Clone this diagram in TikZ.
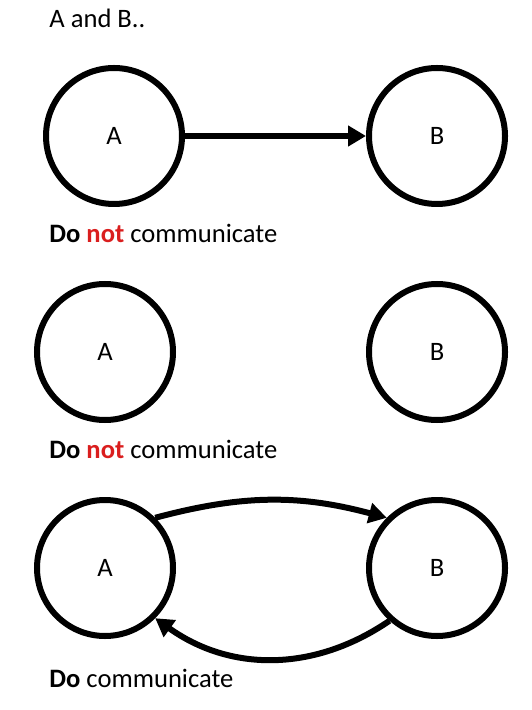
\documentclass[tikz,border=0pt]{standalone}
\usepackage{fontspec}
\setmainfont{Carlito}
\usepackage{xcolor}
\usetikzlibrary{arrows.meta,positioning}
\definecolor{notred}{RGB}{218,30,30}

\begin{document}
\begin{tikzpicture}[x=0.5pt,y=-0.5pt,>={Triangle[length=9pt,width=10pt]},node distance=161.5pt,on grid,font=\fontsize{13.3}{16}\selectfont]
          \useasboundingbox (0,0) rectangle (531,710);
          \tikzset{party/.style={circle,draw,line width=3pt,minimum size=68pt,inner sep=0pt}}
          \tikzset{caption/.style={anchor=base west,inner sep=0pt}}
          \tikzset{msg/.style={->,line width=3pt}}
          \node[caption]          (title) at (49,28)     {A and B..};
          \node[party]            (A1) at (114,136)      {A};
          \node[party]            (B1) [right=of A1]     {B};
          \node[caption]          (cap1) at (49,243)     {\textbf{Do} \textcolor{notred}{\textbf{not}} communicate};
          \node[party]            (A2) at (105,352)      {A};
          \node[party]            (B2) [right=166pt of A2] {B};
          \node[caption]          (cap2) at (49,458)     {\textbf{Do} \textcolor{notred}{\textbf{not}} communicate};
          \node[party]            (A3) at (105,568)      {A};
          \node[party]            (B3) [right=166pt of A3] {B};
          \node[caption]          (cap3) at (49,687)     {\textbf{Do} communicate};
          \draw[msg] (A1) -- (B1);
          \draw[msg] (A3.45) to[bend left=15] (B3.135);
          \draw[msg] (B3.228) to[bend left=35] (A3.-45);
        \end{tikzpicture}
\end{document}
